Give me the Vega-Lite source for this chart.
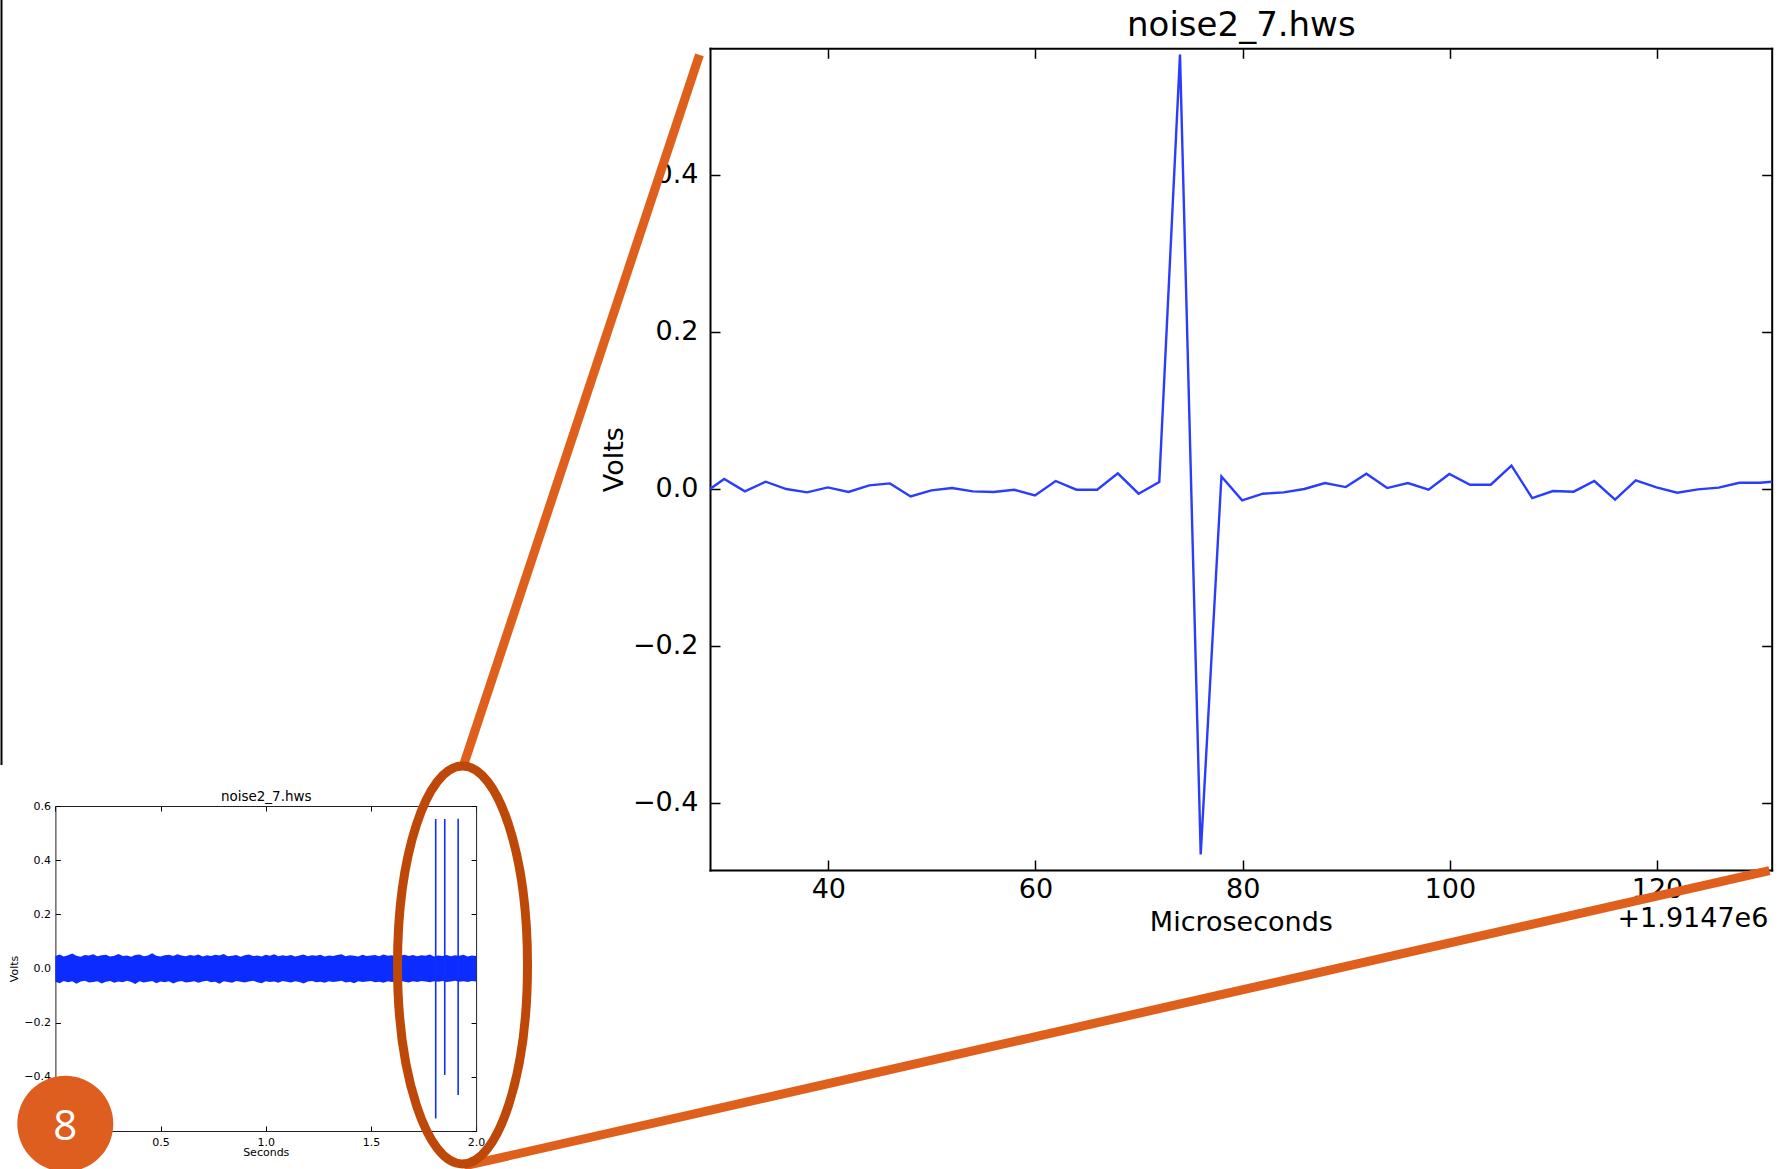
{
  "$schema": "https://vega.github.io/schema/vega-lite/v6.json",
  "width": 1783,
  "height": 1169,
  "autosize": {"type": "none"},
  "padding": 0,
  "background": "white",
  "config": {
    "view": {"stroke": null},
    "axis": {
      "grid": false,
      "labelFont": "DejaVu Sans",
      "titleFont": "DejaVu Sans",
      "labelColor": "#000000",
      "titleColor": "#000000",
      "titleFontWeight": "normal",
      "domainColor": "#000000",
      "tickColor": "#000000",
      "domainCap": "square",
      "labelFlush": false,
      "labelOverlap": false
    }
  },
  "datasets": {
    "big": [
      {"t": 28.58, "v": -0.0004}, {"t": 29.95, "v": 0.0124}, {"t": 31.95, "v": -0.0034}, {"t": 33.95, "v": 0.0089},
      {"t": 35.95, "v": -0.0004}, {"t": 37.95, "v": -0.0047}, {"t": 39.95, "v": 0.0017}, {"t": 41.95, "v": -0.0042},
      {"t": 43.95, "v": 0.0042}, {"t": 45.95, "v": 0.0068}, {"t": 47.95, "v": -0.0098}, {"t": 49.95, "v": -0.0021},
      {"t": 51.95, "v": 0.0008}, {"t": 53.95, "v": -0.0034}, {"t": 55.95, "v": -0.0042}, {"t": 57.95, "v": -0.0013},
      {"t": 59.95, "v": -0.0085}, {"t": 61.95, "v": 0.0098}, {"t": 63.95, "v": -0.0013}, {"t": 65.95, "v": -0.0013},
      {"t": 67.95, "v": 0.0195}, {"t": 69.95, "v": -0.0064}, {"t": 71.95, "v": 0.0085}, {"t": 73.95, "v": 0.553},
      {"t": 75.95, "v": -0.466}, {"t": 77.95, "v": 0.0155}, {"t": 79.95, "v": -0.0149}, {"t": 81.95, "v": -0.0064},
      {"t": 83.95, "v": -0.0047}, {"t": 85.95, "v": -0.0004}, {"t": 87.95, "v": 0.0072}, {"t": 89.95, "v": 0.0021},
      {"t": 91.95, "v": 0.0191}, {"t": 93.95, "v": 0.0008}, {"t": 95.95, "v": 0.0072}, {"t": 97.95, "v": -0.0013},
      {"t": 99.95, "v": 0.0187}, {"t": 101.95, "v": 0.0051}, {"t": 103.95, "v": 0.0051}, {"t": 105.95, "v": 0.0293},
      {"t": 107.95, "v": -0.0119}, {"t": 109.95, "v": -0.003}, {"t": 111.95, "v": -0.0038}, {"t": 113.95, "v": 0.0098},
      {"t": 115.95, "v": -0.014}, {"t": 117.95, "v": 0.0106}, {"t": 119.95, "v": 0.0017}, {"t": 121.95, "v": -0.0051},
      {"t": 123.95, "v": -0.0009}, {"t": 125.95, "v": 0.0013}, {"t": 127.95, "v": 0.0076}, {"t": 129.95, "v": 0.0076},
      {"t": 131.07, "v": 0.0089}
    ],
    "band": [
      {"t": 0.00, "hi": 0.046, "lo": -0.049}, {"t": 0.02, "hi": 0.052, "lo": -0.054}, {"t": 0.04, "hi": 0.044, "lo": -0.046},
      {"t": 0.06, "hi": 0.049, "lo": -0.051}, {"t": 0.08, "hi": 0.055, "lo": -0.047}, {"t": 0.10, "hi": 0.047, "lo": -0.056},
      {"t": 0.12, "hi": 0.043, "lo": -0.048}, {"t": 0.14, "hi": 0.050, "lo": -0.045}, {"t": 0.16, "hi": 0.048, "lo": -0.052},
      {"t": 0.18, "hi": 0.053, "lo": -0.050}, {"t": 0.20, "hi": 0.045, "lo": -0.047}, {"t": 0.22, "hi": 0.049, "lo": -0.055},
      {"t": 0.24, "hi": 0.051, "lo": -0.049}, {"t": 0.26, "hi": 0.044, "lo": -0.046}, {"t": 0.28, "hi": 0.047, "lo": -0.053},
      {"t": 0.30, "hi": 0.054, "lo": -0.048}, {"t": 0.32, "hi": 0.046, "lo": -0.051}, {"t": 0.34, "hi": 0.048, "lo": -0.045},
      {"t": 0.36, "hi": 0.043, "lo": -0.050}, {"t": 0.38, "hi": 0.050, "lo": -0.057}, {"t": 0.40, "hi": 0.052, "lo": -0.047},
      {"t": 0.42, "hi": 0.045, "lo": -0.052}, {"t": 0.44, "hi": 0.048, "lo": -0.049}, {"t": 0.46, "hi": 0.056, "lo": -0.046},
      {"t": 0.48, "hi": 0.047, "lo": -0.054}, {"t": 0.50, "hi": 0.044, "lo": -0.048}, {"t": 0.52, "hi": 0.049, "lo": -0.051},
      {"t": 0.54, "hi": 0.051, "lo": -0.047}, {"t": 0.56, "hi": 0.046, "lo": -0.055}, {"t": 0.58, "hi": 0.053, "lo": -0.049},
      {"t": 0.60, "hi": 0.048, "lo": -0.046}, {"t": 0.62, "hi": 0.045, "lo": -0.052}, {"t": 0.64, "hi": 0.050, "lo": -0.050},
      {"t": 0.66, "hi": 0.047, "lo": -0.047}, {"t": 0.68, "hi": 0.052, "lo": -0.053}, {"t": 0.70, "hi": 0.044, "lo": -0.048},
      {"t": 0.72, "hi": 0.049, "lo": -0.045}, {"t": 0.74, "hi": 0.046, "lo": -0.051}, {"t": 0.76, "hi": 0.051, "lo": -0.049},
      {"t": 0.78, "hi": 0.048, "lo": -0.056}, {"t": 0.80, "hi": 0.054, "lo": -0.047}, {"t": 0.82, "hi": 0.045, "lo": -0.050},
      {"t": 0.84, "hi": 0.047, "lo": -0.053}, {"t": 0.86, "hi": 0.050, "lo": -0.046}, {"t": 0.88, "hi": 0.043, "lo": -0.049},
      {"t": 0.90, "hi": 0.049, "lo": -0.052}, {"t": 0.92, "hi": 0.052, "lo": -0.048}, {"t": 0.94, "hi": 0.046, "lo": -0.045},
      {"t": 0.96, "hi": 0.048, "lo": -0.051}, {"t": 0.98, "hi": 0.044, "lo": -0.054}, {"t": 1.00, "hi": 0.051, "lo": -0.047},
      {"t": 1.02, "hi": 0.047, "lo": -0.050}, {"t": 1.04, "hi": 0.053, "lo": -0.048}, {"t": 1.06, "hi": 0.045, "lo": -0.053},
      {"t": 1.08, "hi": 0.049, "lo": -0.046}, {"t": 1.10, "hi": 0.046, "lo": -0.049}, {"t": 1.12, "hi": 0.050, "lo": -0.052},
      {"t": 1.14, "hi": 0.044, "lo": -0.047}, {"t": 1.16, "hi": 0.048, "lo": -0.050}, {"t": 1.18, "hi": 0.052, "lo": -0.055},
      {"t": 1.20, "hi": 0.045, "lo": -0.048}, {"t": 1.22, "hi": 0.049, "lo": -0.046}, {"t": 1.24, "hi": 0.047, "lo": -0.051},
      {"t": 1.26, "hi": 0.051, "lo": -0.049}, {"t": 1.28, "hi": 0.044, "lo": -0.053}, {"t": 1.30, "hi": 0.048, "lo": -0.047},
      {"t": 1.32, "hi": 0.046, "lo": -0.050}, {"t": 1.34, "hi": 0.050, "lo": -0.048}, {"t": 1.36, "hi": 0.053, "lo": -0.045},
      {"t": 1.38, "hi": 0.045, "lo": -0.052}, {"t": 1.40, "hi": 0.049, "lo": -0.049}, {"t": 1.42, "hi": 0.047, "lo": -0.054},
      {"t": 1.44, "hi": 0.044, "lo": -0.047}, {"t": 1.46, "hi": 0.051, "lo": -0.050}, {"t": 1.48, "hi": 0.046, "lo": -0.048},
      {"t": 1.50, "hi": 0.048, "lo": -0.046}, {"t": 1.52, "hi": 0.050, "lo": -0.051}, {"t": 1.54, "hi": 0.045, "lo": -0.049},
      {"t": 1.56, "hi": 0.052, "lo": -0.053}, {"t": 1.58, "hi": 0.047, "lo": -0.047}, {"t": 1.60, "hi": 0.049, "lo": -0.050},
      {"t": 1.62, "hi": 0.044, "lo": -0.048}, {"t": 1.64, "hi": 0.048, "lo": -0.045}, {"t": 1.66, "hi": 0.051, "lo": -0.049},
      {"t": 1.68, "hi": 0.046, "lo": -0.052}, {"t": 1.70, "hi": 0.050, "lo": -0.047}, {"t": 1.72, "hi": 0.045, "lo": -0.050},
      {"t": 1.74, "hi": 0.049, "lo": -0.046}, {"t": 1.76, "hi": 0.047, "lo": -0.048}, {"t": 1.78, "hi": 0.052, "lo": -0.051},
      {"t": 1.80, "hi": 0.044, "lo": -0.047}, {"t": 1.82, "hi": 0.048, "lo": -0.049}, {"t": 1.84, "hi": 0.046, "lo": -0.046},
      {"t": 1.86, "hi": 0.050, "lo": -0.050}, {"t": 1.88, "hi": 0.045, "lo": -0.048}, {"t": 1.90, "hi": 0.049, "lo": -0.045},
      {"t": 1.92, "hi": 0.047, "lo": -0.049}, {"t": 1.94, "hi": 0.051, "lo": -0.047}, {"t": 1.96, "hi": 0.044, "lo": -0.050},
      {"t": 1.98, "hi": 0.048, "lo": -0.046}, {"t": 2.00, "hi": 0.046, "lo": -0.048}
    ],
    "spikes": [
      {"t": 1.808, "lo": -0.554, "hi": 0.552},
      {"t": 1.851, "lo": -0.393, "hi": 0.552},
      {"t": 1.9147, "lo": -0.467, "hi": 0.553}
    ],
    "connectors": [
      {"x": 39.23, "y": 4.70, "x2": 26.02, "y2": 65.35},
      {"x": 26.02, "y": 99.74, "x2": 99.24, "y2": 74.47}
    ],
    "edge": [{"x": 0.084, "y": 0, "y2": 65.44}],
    "ellipse": [{"x": 25.94, "y": 82.55}],
    "badge": [{"x": 3.662, "y": 96.13, "label": "8"}]
  },
  "resolve": {"scale": {"x": "independent", "y": "independent"}},
  "layer": [
    {
      "layer": [
        {
          "data": {"name": "band"},
          "mark": {"type": "area", "color": "#0c2cff", "opacity": 1},
          "encoding": {
            "x": {
              "field": "t", "type": "quantitative",
              "scale": {"domain": [0, 2], "range": [55.4, 476.1], "nice": false, "zero": false},
              "axis": {"orient": "bottom", "offset": -38, "values": [0, 0.5, 1, 1.5, 2], "format": ".1f",
                       "tickSize": -5, "tickWidth": 1, "labelPadding": 10, "labelFontSize": 11,
                       "domainWidth": 1, "domainColor": "#222222", "title": "Seconds", "titleFontSize": 11, "titlePadding": -1}
            },
            "y": {
              "field": "lo", "type": "quantitative",
              "scale": {"domain": [-0.6, 0.6], "range": [1131, 806], "nice": false, "zero": false},
              "axis": {"orient": "left", "offset": -55.4, "values": [-0.6, -0.4, -0.2, 0, 0.2, 0.4, 0.6], "format": ".1f",
                       "tickSize": -5, "tickWidth": 1, "labelPadding": 10, "labelFontSize": 11,
                       "domainWidth": 1, "domainColor": "#222222", "title": "Volts", "titleFontSize": 11, "titlePadding": 4}
            },
            "y2": {"field": "hi"}
          }
        },
        {
          "data": {"name": "spikes"},
          "mark": {"type": "rule", "color": "#1030ff", "strokeWidth": 1.6},
          "encoding": {
            "x": {"field": "t", "type": "quantitative"},
            "y": {"field": "lo", "type": "quantitative"},
            "y2": {"field": "hi"}
          }
        }
      ]
    },
    {
      "data": {"name": "band"},
      "mark": {"type": "line", "opacity": 0},
      "encoding": {
        "x": {
          "field": "t", "type": "quantitative",
          "scale": {"domain": [0, 2], "range": [55.4, 476.1], "nice": false, "zero": false},
          "axis": {"orient": "top", "offset": -806, "values": [0, 0.5, 1, 1.5, 2], "labels": false,
                   "tickSize": -5, "tickWidth": 1, "domainWidth": 1, "domainColor": "#222222",
                   "title": "noise2_7.hws", "titleFontSize": 13.5, "titlePadding": 2}
        },
        "y": {
          "field": "hi", "type": "quantitative",
          "scale": {"domain": [-0.6, 0.6], "range": [1131, 806], "nice": false, "zero": false},
          "axis": {"orient": "right", "offset": -1306.9, "values": [-0.6, -0.4, -0.2, 0, 0.2, 0.4, 0.6], "labels": false,
                   "tickSize": -5, "tickWidth": 1, "domainWidth": 1, "domainColor": "#222222", "title": null}
        }
      }
    },
    {
      "layer": [
        {
          "data": {"name": "big"},
          "mark": {"type": "line", "color": "#2b3cff", "strokeWidth": 2.4},
          "encoding": {
            "x": {
              "field": "t", "type": "quantitative",
              "scale": {"domain": [28.58, 131.07], "range": [710, 1771.7], "nice": false, "zero": false},
              "axis": {"orient": "bottom", "offset": -299, "values": [40, 60, 80, 100, 120], "format": "d",
                       "tickSize": -10, "tickWidth": 1.5, "labelPadding": 16, "labelFontSize": 27,
                       "domainWidth": 2, "title": "Microseconds", "titleFontSize": 27, "titlePadding": 7}
            },
            "y": {
              "field": "v", "type": "quantitative",
              "scale": {"domain": [-0.4857, 0.561], "range": [870, 48.3], "nice": false, "zero": false},
              "axis": {"orient": "left", "offset": -710, "values": [-0.4, -0.2, 0, 0.2, 0.4], "format": ".1f",
                       "tickSize": -10, "tickWidth": 1.5, "labelPadding": 22, "labelFontSize": 27,
                       "domainWidth": 2, "title": "Volts", "titleFontSize": 27, "titlePadding": 4}
            }
          }
        },
        {
          "data": {"values": [{"label": "+1.9147e6"}]},
          "mark": {"type": "text", "font": "DejaVu Sans", "fontSize": 27, "color": "#000000", "align": "right", "baseline": "middle"},
          "encoding": {
            "x": {"datum": 130.75, "type": "quantitative"},
            "y": {"datum": -0.548, "type": "quantitative"},
            "text": {"field": "label"}
          }
        }
      ]
    },
    {
      "data": {"name": "big"},
      "mark": {"type": "line", "opacity": 0},
      "encoding": {
        "x": {
          "field": "t", "type": "quantitative",
          "scale": {"domain": [28.58, 131.07], "range": [710, 1771.7], "nice": false, "zero": false},
          "axis": {"orient": "top", "offset": -48.3, "values": [40, 60, 80, 100, 120], "labels": false,
                   "tickSize": -10, "tickWidth": 1.5, "domainWidth": 2,
                   "title": "noise2_7.hws", "titleFontSize": 34, "titlePadding": 5}
        },
        "y": {
          "field": "v", "type": "quantitative",
          "scale": {"domain": [-0.4857, 0.561], "range": [870, 48.3], "nice": false, "zero": false},
          "axis": {"orient": "right", "offset": -11.3, "values": [-0.4, -0.2, 0, 0.2, 0.4], "labels": false,
                   "tickSize": -10, "tickWidth": 1.5, "domainWidth": 2, "title": null}
        }
      }
    },
    {
      "layer": [
        {
          "data": {"name": "edge"},
          "mark": {"type": "rule", "color": "#000000", "strokeWidth": 2},
          "encoding": {
            "x": {"field": "x", "type": "quantitative", "scale": {"domain": [0, 100], "range": [0, 1783], "nice": false, "zero": false}, "axis": null},
            "y": {"field": "y", "type": "quantitative", "scale": {"domain": [0, 100], "range": [0, 1169], "nice": false, "zero": false}, "axis": null},
            "y2": {"field": "y2"}
          }
        },
        {
          "data": {"name": "connectors"},
          "mark": {"type": "rule", "color": "#de601c", "strokeWidth": 9},
          "encoding": {
            "x": {"field": "x", "type": "quantitative", "axis": null},
            "y": {"field": "y", "type": "quantitative", "axis": null},
            "x2": {"field": "x2"},
            "y2": {"field": "y2"}
          }
        },
        {
          "data": {"name": "ellipse"},
          "mark": {
            "type": "point",
            "shape": "M0,-1C0.1804,-1,0.3266,-0.5523,0.3266,0C0.3266,0.5523,0.1804,1,0,1C-0.1804,1,-0.3266,0.5523,-0.3266,0C-0.3266,-0.5523,-0.1804,-1,0,-1Z",
            "size": 158404,
            "filled": false,
            "stroke": "#be4808",
            "strokeWidth": 9,
            "opacity": 1
          },
          "encoding": {
            "x": {"field": "x", "type": "quantitative", "axis": null},
            "y": {"field": "y", "type": "quantitative", "axis": null}
          }
        },
        {
          "data": {"name": "badge"},
          "mark": {"type": "point", "shape": "circle", "size": 9216, "filled": true, "fill": "#dd5e1f", "strokeWidth": 0, "opacity": 1},
          "encoding": {
            "x": {"field": "x", "type": "quantitative", "axis": null},
            "y": {"field": "y", "type": "quantitative", "axis": null}
          }
        },
        {
          "data": {"name": "badge"},
          "mark": {"type": "text", "font": "Open Sans", "fontSize": 42, "fontWeight": "normal", "color": "#ffffff", "align": "center", "baseline": "middle", "dy": 3},
          "encoding": {
            "x": {"field": "x", "type": "quantitative", "axis": null},
            "y": {"field": "y", "type": "quantitative", "axis": null},
            "text": {"field": "label"}
          }
        }
      ]
    }
  ]
}
